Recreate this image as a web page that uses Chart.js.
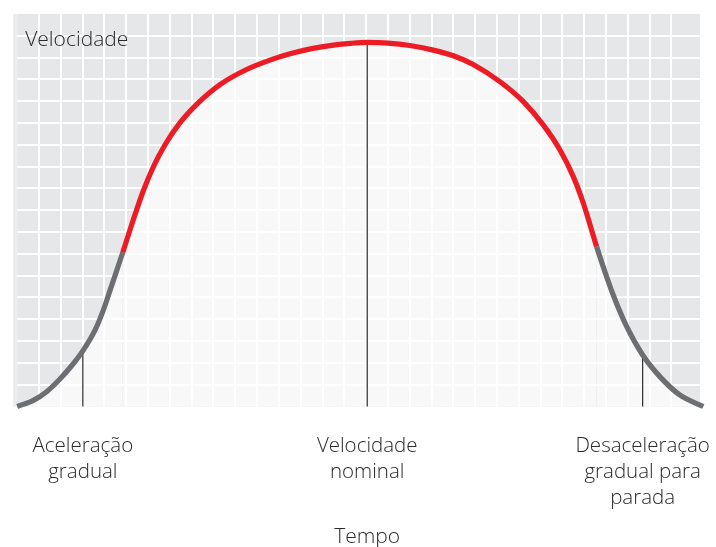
<!DOCTYPE html>
<html>
<head>
<meta charset="utf-8">
<script src="https://cdn.jsdelivr.net/npm/chart.js@4"></script>
<style>
  html, body { margin: 0; padding: 0; background: #ffffff; }
  #wrap { width: 716px; height: 547px; }
</style>
</head>
<body>
<div id="wrap"><canvas id="c" width="716" height="547"></canvas></div>
<script>
// ---- Data (x = time in grid cells, y = speed in grid cells) ----
const timePoints = [0, 0.74, 1.35, 1.96, 2.57, 3.01, 3.57, 3.95, 4.25, 4.56, 4.84, 5.32, 5.78, 6.24, 6.78, 7.46, 8.30, 9.30, 10.52, 11.59, 12.51, 13.5, 14.5, 15.3, 16.05, 17.0, 18.0, 19.08, 20.0, 20.91, 22.14, 23.21, 24.12, 24.89, 25.50, 25.96, 26.57, 26.87, 27.33, 27.95, 28.68, 29.47, 30.38, 31.46];
const speedValues = [0, 0.28, 0.68, 1.26, 1.96, 2.55, 3.50, 4.42, 5.30, 6.22, 7.06, 8.55, 9.88, 10.98, 12.0, 13.0, 13.92, 14.76, 15.45, 15.88, 16.17, 16.41, 16.57, 16.65, 16.69, 16.66, 16.55, 16.34, 16.08, 15.68, 14.89, 13.98, 12.91, 11.76, 10.54, 9.32, 7.33, 6.41, 5.11, 3.66, 2.36, 1.37, 0.53, 0];
const nominalStart = 4.84;   // red section starts
const nominalEnd = 26.57;    // red section ends
const markerTimes = [3.01, 16.05, 28.68];
const markerSpeeds = [2.5, 16.69, 2.36];
const tickLabels = [["Aceleração", "gradual"], ["Velocidade", "nominal"], ["Desaceleração", "gradual para", "parada"]];
const yTitle = "Velocidade";
const xTitle = "Tempo";

const X_MAX = 31.31, Y_MAX = 18;
const FONT = "'Open Sans', 'Noto Sans', sans-serif";
const TEXT_COLOR = '#2a2a2a';
const RED = '#ed1c24', GRAY = '#6d6e71';

const curve = timePoints.map((t, i) => ({ x: t, y: speedValues[i] }));
const markerSets = markerTimes.map((t, i) => ({
  data: [{ x: t, y: 0 }, { x: t, y: markerSpeeds[i] }],
  borderColor: '#2b2b2b', borderWidth: 1.2, pointRadius: 0, fill: false, tension: 0, clip: false
}));

const bgPlugin = {
  id: 'bg',
  beforeDraw(chart) {
    const { ctx, chartArea: a } = chart;
    ctx.save();
    ctx.fillStyle = '#e6e7e9';
    ctx.fillRect(a.left, a.top, a.right - a.left, a.bottom - a.top);
    ctx.fillStyle = '#ececed';
    ctx.fillRect(a.left - 4, a.top, 4, a.bottom - a.top);
    ctx.restore();
  }
};
const textPlugin = {
  id: 'texts',
  afterDraw(chart) {
    const { ctx, chartArea: a } = chart;
    const xs = chart.scales.x;
    ctx.save();
    ctx.fillStyle = TEXT_COLOR;
    ctx.font = "300 21px " + FONT;
    ctx.textBaseline = 'alphabetic';
    ctx.textAlign = 'left';
    ctx.fillText(yTitle, a.left + 8, 46);
    ctx.textAlign = 'center';
    ctx.textBaseline = 'middle';
    ctx.fillText(xTitle, xs.getPixelForValue(markerTimes[1]), 537);
    ctx.restore();
  }
};

const gridColor = (ctx) => {
  const v = ctx.tick.value;
  return (Number.isInteger(v) && v > 0) ? '#ffffff' : 'rgba(0,0,0,0)';
};
const noPad = s => { s.paddingLeft = 0; s.paddingRight = 0; s.paddingTop = 0; s.paddingBottom = 0; };

new Chart(document.getElementById('c'), {
  type: 'line',
  data: {
    datasets: [
      {
        data: curve,
        borderWidth: 5.2,
        borderColor: GRAY,
        segment: {
          borderColor: c => (c.p0.parsed.x >= nominalStart - 1e-6 && c.p1.parsed.x <= nominalEnd + 1e-6) ? RED : GRAY
        },
        pointRadius: 0,
        cubicInterpolationMode: 'monotone',
        fill: 'origin',
        backgroundColor: 'rgba(255,255,255,0.72)',
        clip: false
      },
      ...markerSets
    ]
  },
  options: {
    responsive: false,
    devicePixelRatio: 1,
    animation: false,
    events: [],
    layout: { padding: { left: 17.2, right: 16, top: 13.9, bottom: 0 } },
    plugins: {
      legend: { display: false },
      tooltip: { enabled: false },
      filler: { drawTime: 'beforeDatasetsDraw' }
    },
    scales: {
      x: {
        type: 'linear', min: 0, max: X_MAX, position: 'bottom',
        ticks: { display: false, stepSize: 1 },
        grid: { color: gridColor, lineWidth: 2, drawTicks: false },
        border: { display: false },
        afterFit: s => { s.height = 0; noPad(s); }
      },
      xl: {
        type: 'linear', min: 0, max: X_MAX, position: 'bottom',
        afterBuildTicks: s => { s.ticks = markerTimes.map(v => ({ value: v })); },
        ticks: {
          autoSkip: false, maxRotation: 0, minRotation: 0,
          padding: 26.5,
          color: TEXT_COLOR,
          font: { family: FONT, size: 20.5, weight: 300, lineHeight: 1.27 },
          callback: (v, i) => tickLabels[i]
        },
        grid: { display: false, drawTicks: false },
        border: { display: false },
        afterFit: s => { s.height = 547 - 406.5; noPad(s); }
      },
      y: {
        type: 'linear', min: 0, max: Y_MAX,
        ticks: { display: false, stepSize: 1 },
        grid: { color: c => { const v = c.tick.value; return (v > 0 && v < Y_MAX) ? '#ffffff' : 'rgba(0,0,0,0)'; }, lineWidth: 2, drawTicks: false },
        border: { display: false },
        afterFit: s => { s.width = 0; noPad(s); }
      }
    }
  },
  plugins: [bgPlugin, textPlugin]
});
</script>
</body>
</html>
